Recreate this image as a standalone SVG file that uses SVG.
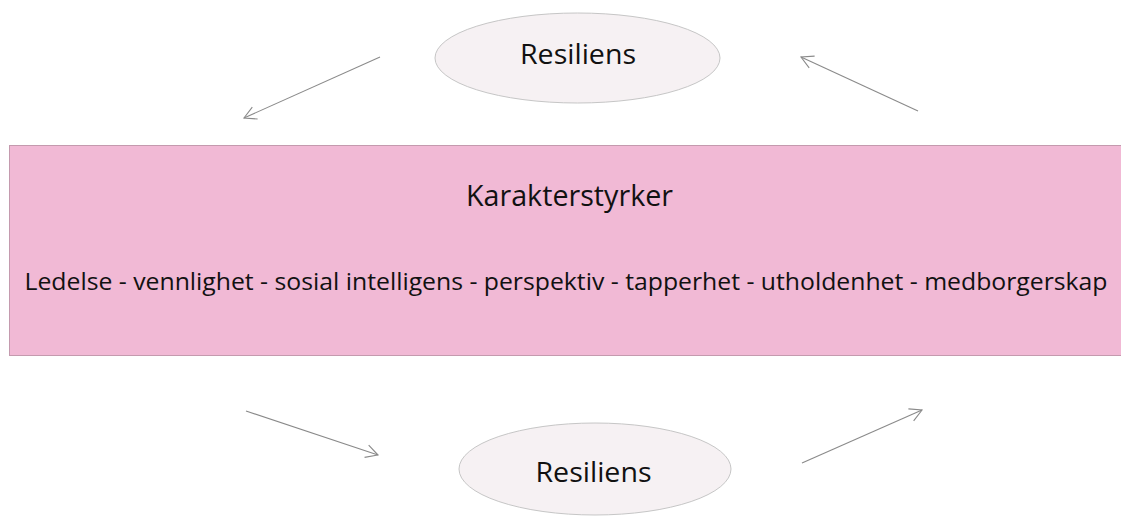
<svg xmlns="http://www.w3.org/2000/svg" width="1121" height="516" viewBox="0 0 1121 516">
  <style>
    .lbl { font-family: "Open Sans", "Liberation Sans", sans-serif; fill: #111111; text-anchor: middle; }
    .ell { fill: #F6F1F3; stroke: #C6C6C6; stroke-width: 1; }
    .conn { stroke: #8A8A8A; stroke-width: 1.1; fill: none; marker-end: url(#arr); }
  </style>
  <defs>
    <marker id="arr" markerUnits="userSpaceOnUse" markerWidth="30" markerHeight="30" viewBox="-15 -15 30 30" refX="0" refY="0" orient="auto">
      <path d="M -12 -6.5 L 0 0 L -12 6.5" fill="none" stroke="#8A8A8A" stroke-width="1.1"/>
    </marker>
  </defs>
  <rect width="1121" height="516" fill="#FFFFFF"/>
  <g id="karakterstyrker">
    <rect x="9.5" y="145.5" width="1120" height="210" fill="#F1B9D5" stroke="#C49AAE" stroke-width="1"/>
    <text class="lbl" x="569.5" y="206" font-size="29" textLength="207" lengthAdjust="spacingAndGlyphs">Karakterstyrker</text>
    <text class="lbl" x="566" y="290" font-size="24" textLength="1083" lengthAdjust="spacingAndGlyphs">Ledelse - vennlighet - sosial intelligens - perspektiv - tapperhet - utholdenhet - medborgerskap</text>
  </g>
  <g id="resiliens-top">
    <ellipse class="ell" cx="577.5" cy="58" rx="142.5" ry="45"/>
    <text class="lbl" x="578" y="64" font-size="28" textLength="116" lengthAdjust="spacingAndGlyphs">Resiliens</text>
  </g>
  <g id="resiliens-bottom">
    <ellipse class="ell" cx="595" cy="469" rx="136" ry="46"/>
    <text class="lbl" x="593.5" y="482" font-size="28" textLength="116" lengthAdjust="spacingAndGlyphs">Resiliens</text>
  </g>
  <g id="connectors">
    <line class="conn" x1="380" y1="57" x2="244" y2="118"/>
    <line class="conn" x1="918" y1="111" x2="801" y2="57"/>
    <line class="conn" x1="246" y1="411" x2="378" y2="455"/>
    <line class="conn" x1="802" y1="463" x2="922" y2="410"/>
  </g>
</svg>
